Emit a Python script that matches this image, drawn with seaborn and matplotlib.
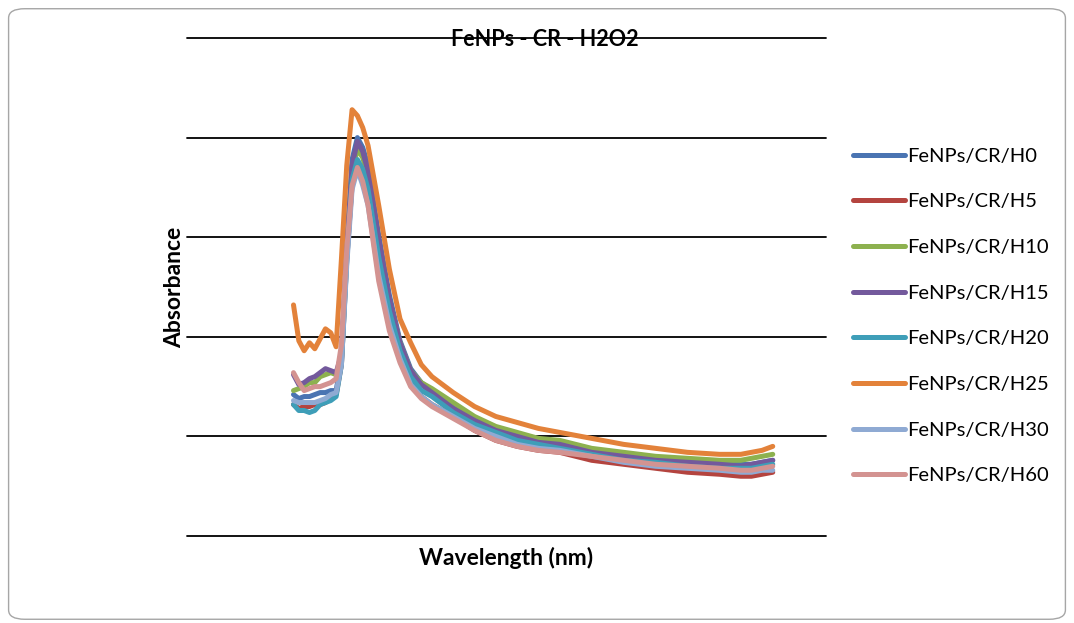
import matplotlib
matplotlib.use("Agg")
import matplotlib.pyplot as plt
from matplotlib.patches import FancyBboxPatch
import seaborn as sns
import pandas as pd

# ---------------- data ----------------
wavelength = [250, 255, 260, 265, 270, 275, 280, 285, 290, 295, 300, 305, 310, 315, 320,
              330, 340, 350, 360, 370, 380, 400, 420, 440, 460, 480, 500, 530, 560, 590,
              620, 650, 670, 680, 690, 700]

series_names = ["FeNPs/CR/H0", "FeNPs/CR/H5", "FeNPs/CR/H10", "FeNPs/CR/H15",
                "FeNPs/CR/H20", "FeNPs/CR/H25", "FeNPs/CR/H30", "FeNPs/CR/H60"]

h0 = [0.71, 0.69, 0.70, 0.70, 0.71, 0.72, 0.72, 0.73, 0.73, 0.88, 1.44, 1.89, 2.00, 1.95, 1.86,
      1.51, 1.21, 0.98, 0.84, 0.77, 0.73, 0.65, 0.58, 0.54, 0.50, 0.48, 0.46, 0.43, 0.40, 0.38,
      0.37, 0.36, 0.36, 0.36, 0.37, 0.38]
h5 = [0.66, 0.64, 0.65, 0.65, 0.66, 0.66, 0.67, 0.69, 0.71, 0.86, 1.39, 1.76, 1.87, 1.81, 1.71,
      1.36, 1.09, 0.91, 0.77, 0.70, 0.66, 0.60, 0.53, 0.48, 0.45, 0.43, 0.42, 0.38, 0.36, 0.34,
      0.32, 0.31, 0.30, 0.30, 0.31, 0.32]
h10 = [0.73, 0.74, 0.75, 0.77, 0.77, 0.80, 0.81, 0.82, 0.81, 0.89, 1.41, 1.84, 1.94, 1.90, 1.80,
       1.46, 1.18, 0.97, 0.83, 0.77, 0.74, 0.67, 0.60, 0.55, 0.52, 0.49, 0.48, 0.44, 0.42, 0.40,
       0.39, 0.38, 0.38, 0.39, 0.40, 0.41]
h15 = [0.81, 0.76, 0.77, 0.79, 0.80, 0.82, 0.84, 0.83, 0.82, 0.91, 1.45, 1.86, 1.98, 1.93, 1.83,
       1.49, 1.19, 0.97, 0.83, 0.76, 0.72, 0.64, 0.58, 0.53, 0.50, 0.47, 0.46, 0.42, 0.40, 0.38,
       0.37, 0.36, 0.35, 0.36, 0.37, 0.38]
h20 = [0.66, 0.63, 0.63, 0.62, 0.63, 0.66, 0.67, 0.68, 0.70, 0.86, 1.38, 1.79, 1.89, 1.84, 1.74,
       1.40, 1.13, 0.93, 0.80, 0.73, 0.70, 0.62, 0.56, 0.52, 0.48, 0.46, 0.44, 0.41, 0.38, 0.37,
       0.35, 0.34, 0.34, 0.34, 0.35, 0.36]
h25 = [1.16, 0.98, 0.93, 0.97, 0.94, 0.99, 1.04, 1.02, 0.95, 1.39, 1.86, 2.14, 2.11, 2.05, 1.96,
       1.66, 1.34, 1.09, 0.97, 0.86, 0.80, 0.72, 0.65, 0.60, 0.57, 0.54, 0.52, 0.49, 0.46, 0.44,
       0.42, 0.41, 0.41, 0.42, 0.43, 0.45]
h30 = [0.68, 0.67, 0.67, 0.67, 0.67, 0.68, 0.69, 0.71, 0.72, 0.86, 1.36, 1.74, 1.84, 1.76, 1.66,
       1.31, 1.06, 0.89, 0.76, 0.70, 0.66, 0.60, 0.54, 0.50, 0.46, 0.44, 0.43, 0.40, 0.37, 0.35,
       0.34, 0.33, 0.32, 0.32, 0.33, 0.33]
h60 = [0.82, 0.77, 0.73, 0.74, 0.75, 0.75, 0.76, 0.77, 0.79, 0.96, 1.44, 1.76, 1.85, 1.78, 1.66,
       1.28, 1.03, 0.87, 0.75, 0.69, 0.65, 0.59, 0.53, 0.48, 0.45, 0.43, 0.42, 0.40, 0.38, 0.36,
       0.35, 0.34, 0.33, 0.33, 0.34, 0.35]

series_values = [h0, h5, h10, h15, h20, h25, h30, h60]
grid_ticks = [0.0, 0.5, 1.0, 1.5, 2.0, 2.5]

colors = ["#4A74B2", "#B4443F", "#8DB14F", "#73599C", "#3E9EB8", "#E3823A", "#8FAAD3", "#D39391"]

# ---------------- build table ----------------
rows = []
for name, vals in zip(series_names, series_values):
    for w, a in zip(wavelength, vals):
        rows.append({"Wavelength (nm)": w, "Absorbance": a, "series": name})
df = pd.DataFrame(rows)

sns.set_theme(style="white")
plt.rcParams["font.family"] = ["Lato", "DejaVu Sans"]
plt.rcParams["text.color"] = "black"
plt.rcParams["axes.labelcolor"] = "black"

fig = plt.figure(figsize=(10.74, 6.23), dpi=100)
fig.patch.set_facecolor("white")

# chart border
border = FancyBboxPatch((0.008, 0.006), 0.984, 0.98, boxstyle="round,pad=0,rounding_size=0.015",
                        transform=fig.transFigure, facecolor="none", edgecolor="#A6A6A6",
                        linewidth=1.0, zorder=0)
fig.patches.append(border)

ax = fig.add_axes([187 / 1074, 87 / 623, 639 / 1074, 498 / 623])
ax.set_facecolor("none")

palette = dict(zip(series_names, colors))
sns.lineplot(data=df, x="Wavelength (nm)", y="Absorbance", hue="series",
             hue_order=series_names, palette=palette, sort=False, estimator=None,
             linewidth=3.6, ax=ax, legend=True)
for ln in ax.get_lines():
    ln.set_solid_capstyle("round")
    ln.set_solid_joinstyle("round")

ax.set_xlim(150, 750)
ax.set_ylim(0, 2.5)
ax.set_yticks(grid_ticks)
ax.set_xticks([])
ax.tick_params(left=False, bottom=False, labelleft=False, labelbottom=False)
ax.grid(axis="y", color="black", linewidth=1.3)
for gl in ax.get_ygridlines():
    gl.set_clip_on(False)
ax.set_axisbelow(True)
for s in ax.spines.values():
    s.set_visible(False)

ax.set_xlabel("Wavelength (nm)", fontsize=16.5, fontweight="bold", labelpad=8, color="black")
ax.set_ylabel("Absorbance", fontsize=16.5, fontweight="bold", labelpad=1, color="black")
fig.text(545 / 1074, 1 - 40 / 623, "FeNPs - CR - H2O2", ha="center", va="center",
         fontsize=15.5, fontweight="bold", color="black")

handles, labels = ax.get_legend_handles_labels()
ax.get_legend().remove()
leg = fig.legend(handles, labels, loc="center left", bbox_to_anchor=(845 / 1074, 1 - 316 / 623),
                 frameon=False, fontsize=14.5, handlelength=2.6, handletextpad=0.1,
                 labelspacing=1.42, borderaxespad=0, labelcolor="black")
for h in leg.get_lines():
    h.set_linewidth(3.6)
    h.set_solid_capstyle("round")

fig.savefig("out.png", dpi=100, facecolor="white")
